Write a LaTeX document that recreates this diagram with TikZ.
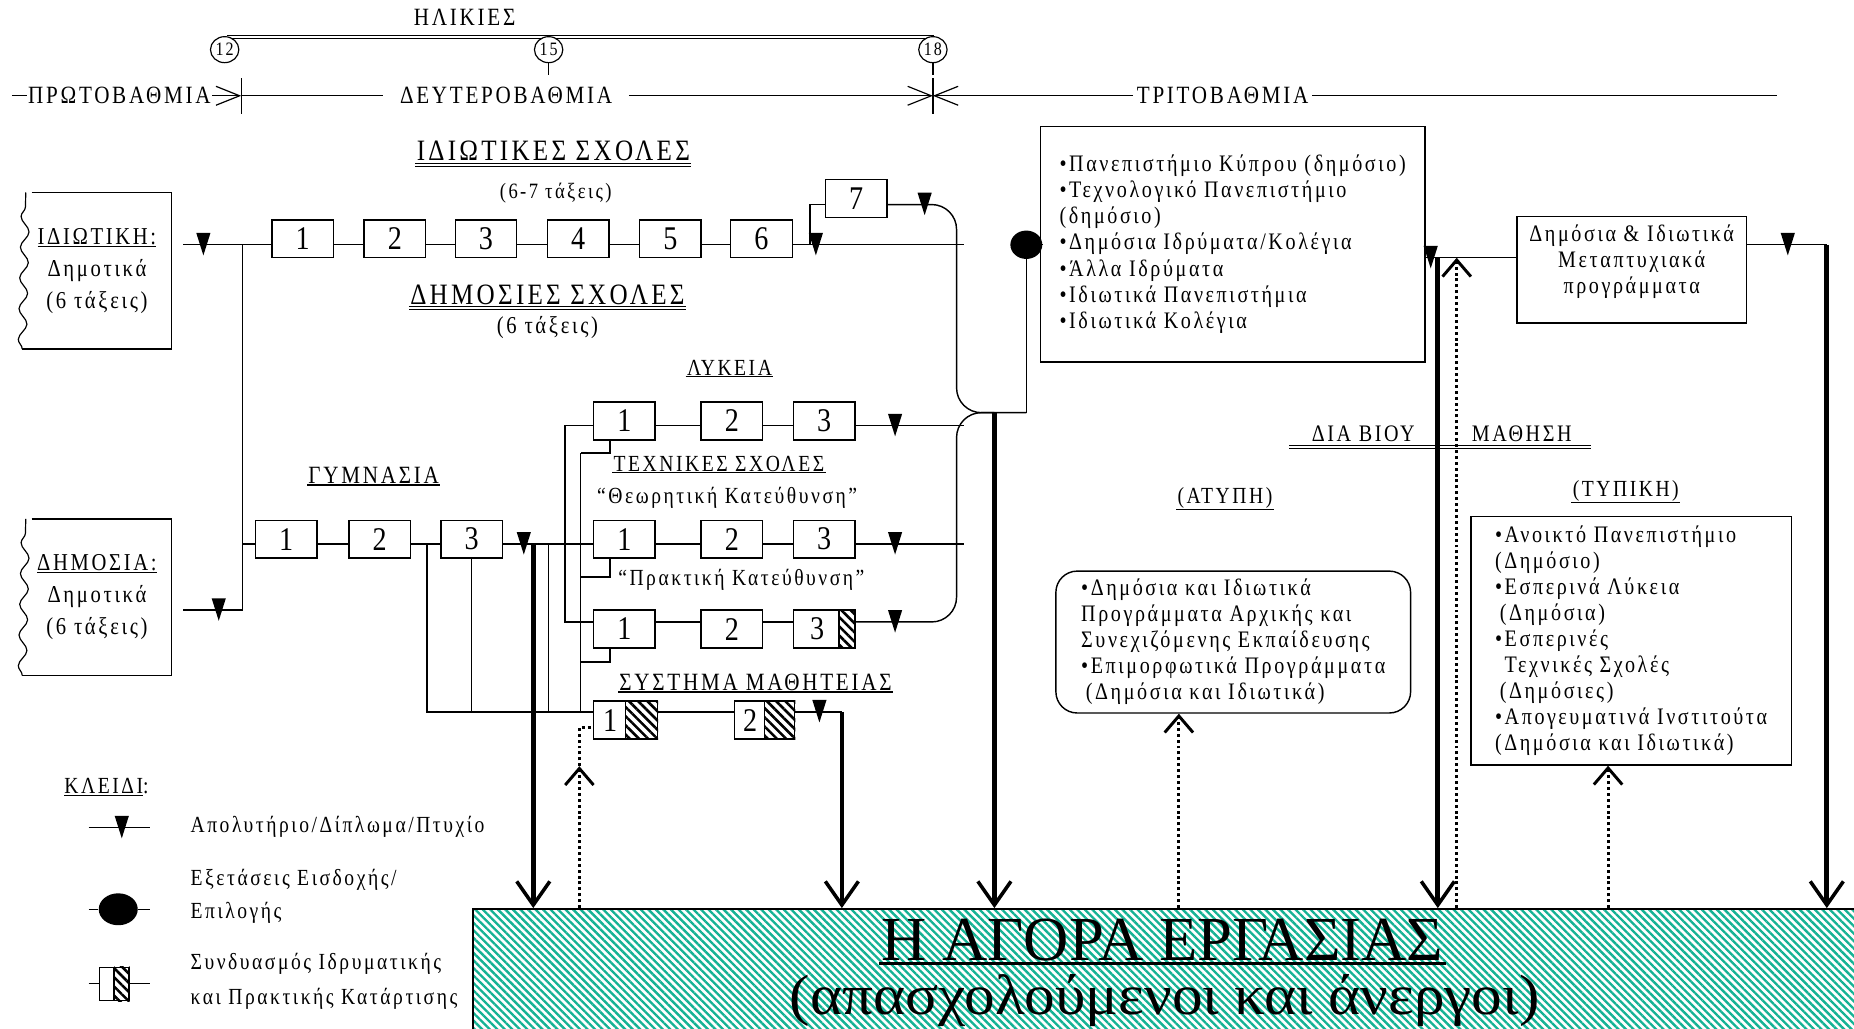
\documentclass[tikz,border=0pt]{standalone}
\usepackage{fontspec}
\setmainfont{Liberation Serif}[LetterSpace=11,FakeStretch=0.85]
\newfontfamily\mktfont{Liberation Serif}
\newfontfamily\mktwide{Liberation Serif}[FakeStretch=1.08]
\usetikzlibrary{arrows.meta,shapes.geometric,patterns.meta,decorations.pathmorphing,positioning}
\definecolor{hatchgreen}{RGB}{20,178,148}
\newcommand{\fsz}[2]{\fontsize{#1}{#2}\selectfont}

\begin{document}
\begin{tikzpicture}[x=1pt,y=-1pt,
    every node/.style={inner sep=1pt},
    ln/.style={line width=1.2pt},
    cls/.style={draw,line width=1.2pt,fill=white,minimum width=52pt,minimum height=32pt,inner sep=0pt,font=\fsz{28}{28}},
    lbl/.style={font=\fsz{19.5}{22}},
    undl/.style={append after command={(\tikzlastnode.south west) edge[line width=1pt] (\tikzlastnode.south east)}},
    dundl/.style={inner ysep=3pt,append after command={(\tikzlastnode.south west) edge[double,double distance=1.6pt,line width=1pt] (\tikzlastnode.south east)}},
    exit/.style={line width=4pt,-{Straight Barb[length=20pt,width=28pt,line width=3pt]}},
    reenter/.style={line width=2.5pt,dash pattern=on 2.5pt off 2.5pt},
    uptip/.style={reenter,-{Straight Barb[length=14pt,width=24pt,line width=2.5pt]}},
    lvl/.style={line width=1pt},
    barb/.style={lvl,-{Straight Barb[length=20pt,width=16pt,line width=1pt]}},
    age/.style={draw,ellipse,line width=1pt,fill=white,minimum width=24pt,minimum height=22pt,inner sep=0pt,font=\fsz{16}{16}},
    exam/.style={ellipse,fill=black,minimum width=27pt,minimum height=24pt,inner sep=0pt},
    mix/.style={pattern={Lines[angle=-45,distance=5.5pt,line width=2.2pt]}},
    wavy/.style={line width=1pt,decorate,decoration={snake,amplitude=3.5pt,segment length=26pt}},
    txtbox/.style={draw,line width=1.2pt,align=left,font=\fsz{20}{22}},
    pics/dipl/.style={code={\fill (-6,-10) -- (6,-10) -- (0,9) -- cycle;}}
]
\useasboundingbox (0,0) rectangle (1568,870);

% labour market
\node[draw,line width=1.5pt,pattern={Lines[angle=-45,distance=4.5pt,line width=2pt]},pattern color=hatchgreen,
      minimum width=1172pt,minimum height=104pt,inner sep=0pt] (mkt) at (986,821) {};
\node[font=\mktfont\fsz{53}{53},inner sep=2pt,append after command={(\tikzlastnode.south west) edge[line width=3pt] (\tikzlastnode.south east)}]
      (mkt1) at (983,795) {Η ΑΓΟΡΑ ΕΡΓΑΣΙΑΣ};
\node[font=\mktwide\fsz{48}{48},inner sep=0pt] (mkt2) at (985,846) {(απασχολούμενοι και άνεργοι)};

% ages
\node[font=\fsz{21}{22}] (ages) at (393,15) {ΗΛΙΚΙΕΣ};
\draw[double,double distance=1.6pt,line width=1pt] (192,31) -- (790,31);
\node[age] (a12) at (190,42) {12};
\node[age] (a15) at (464,42) {15};
\node[age] (a18) at (789,42) {18};
\draw[lvl] (a15.south) -- ++(0,10);
\draw[lvl] (a18.south) -- ++(0,10);

% levels
\node[font=\fsz{21}{22}] (prw) at (101,81) {ΠΡΩΤΟΒΑΘΜΙΑ};
\node[font=\fsz{21}{22},inner xsep=14pt] (dev) at (428,81) {ΔΕΥΤΕΡΟΒΑΘΜΙΑ};
\node[font=\fsz{21}{22},inner xsep=3pt] (trt) at (1034,81) {ΤΡΙΤΟΒΑΘΜΙΑ};
\coordinate (b12) at (204,81);
\coordinate (b18) at (789,81);
\coordinate (lvlL) at (10,81);
\coordinate (lvlR) at (1503,81);
\draw[lvl] (204,66) -- (204,96);
\draw[lvl] (789,66) -- (789,96);
\draw[lvl] (lvlL) -- (prw.west);
\draw[barb] (prw.east) -- (b12);
\draw[lvl] (b12) -- (dev.west);
\draw[barb] (dev.east) -- (b18);
\draw[barb] (trt.west) -- (b18);
\draw[lvl] (trt.east) -- (lvlR);

% titles
\node[dundl,font=\fsz{25}{26}] (psl) at (468,128) {ΙΔΙΩΤΙΚΕΣ ΣΧΟΛΕΣ};
\node[font=\fsz{18.5}{20}] (psn) at (470,163) {(6-7 τάξεις)};
\node[dundl,font=\fsz{25}{26}] (dsl) at (463,249) {ΔΗΜΟΣΙΕΣ ΣΧΟΛΕΣ};
\node[font=\fsz{20.5}{22}] (dsn) at (463,277) {(6 τάξεις)};

% primary schools
\node[font=\fsz{20.5}{27},align=center,minimum width=126pt,minimum height=132pt] (pri) at (82,229)
      {\underline{ΙΔΙΩΤΙΚΗ:}\\Δημοτικά\\(6 τάξεις)};
\node[font=\fsz{20.5}{27},align=center,minimum width=126pt,minimum height=132pt] (pub) at (82,505)
      {\underline{ΔΗΜΟΣΙΑ:}\\Δημοτικά\\(6 τάξεις)};
\draw[ln] ([xshift=8pt]pri.north west) -- (pri.north east) -- (pri.south east) -- (pri.south west);
\draw[wavy] (pri.south west) -- ([xshift=3pt]pri.north west);
\draw[ln] ([xshift=8pt]pub.north west) -- (pub.north east) -- (pub.south east) -- (pub.south west);
\draw[wavy] (pub.south west) -- ([xshift=3pt]pub.north west);

% row heights
\coordinate (rowP) at (0,207);
\coordinate (rowP7) at (0,173);
\coordinate (rowL) at (0,360);
\coordinate (rowT) at (0,460);
\coordinate (rowR) at (0,526);
\coordinate (rowS) at (0,602);
\coordinate (xend) at (815,0);

% private secondary
\foreach \i/\x in {1/256,2/334,3/411,4/489,5/567,6/644}
  \node[cls] (P\i) at (\x,202) {\i};
\node[cls] (P7) at (724,168) {7};
\foreach \i/\j in {1/2,2/3,3/4,4/5,5/6}
  \draw[ln] (P\i.east |- rowP) -- (P\j.west |- rowP);
\coordinate (pOut) at (155,207);
\coordinate (jP) at (205,207);
\coordinate (jP7) at (685,207);
\draw[ln] (pOut) -- (P1.west |- rowP);
\draw[ln] (P6.east |- rowP) -- (xend |- rowP);
\draw[ln] (jP7) |- (P7.west |- rowP7);
\pic at (172,207) {dipl};
\pic at (690,207) {dipl};
\pic at (782,173) {dipl};

% public secondary
\coordinate (dOut) at (155,516);
\coordinate (jD) at (205,516);
\coordinate (jG) at (205,460);
\draw[ln] (dOut) -- (jD) -- (jP);
\pic at (185,516) {dipl};

\node[lbl,undl,font=\fsz{21}{22}] (gyml) at (316,402) {ΓΥΜΝΑΣΙΑ};
\foreach \i/\x in {1/242,2/321,3/399}
  \node[cls] (G\i) at (\x,456) {\i};
\draw[ln] (jG) -- (G1.west |- rowT);
\draw[ln] (G1.east |- rowT) -- (G2.west |- rowT);
\draw[ln] (G2.east |- rowT) -- (G3.west |- rowT);

\node[lbl,undl] (lyk) at (617,311) {ΛΥΚΕΙΑ};
\node[lbl,undl] (tex) at (608,392) {ΤΕΧΝΙΚΕΣ ΣΧΟΛΕΣ};
\node[lbl] (theo) at (615,421) {“Θεωρητική Κατεύθυνση”};
\node[lbl] (prak) at (627,490) {“Πρακτική Κατεύθυνση”};
\node[lbl,undl,font=\fsz{21}{22}] (sml) at (639,577) {ΣΥΣΤΗΜΑ ΜΑΘΗΤΕΙΑΣ};

\foreach \i/\x in {1/528,2/619,3/697} {
  \node[cls] (L\i) at (\x,356) {\i};
  \node[cls] (T\i) at (\x,456) {\i};
}
\node[cls] (R1) at (528,532) {1};
\node[cls] (R2) at (619,532) {2};
\node[cls] (R3) at (697,532) {3\hspace*{12pt}};
\path[mix] ([xshift=-14pt]R3.north east) rectangle (R3.south east);
\draw[ln] ([xshift=-14pt]R3.north east) -- ([xshift=-14pt]R3.south east);
\node[cls,minimum width=54pt] (S1) at (529,609) {1\hspace*{26pt}};
\node[cls,minimum width=51pt] (S2) at (646.5,609) {2\hspace*{24pt}};
\path[mix] (S1.north) rectangle (S1.south east);
\draw[ln] (S1.north) -- (S1.south);
\path[mix] (S2.north) rectangle (S2.south east);
\draw[ln] (S2.north) -- (S2.south);

\foreach \r/\w in {L/rowL,T/rowT,R/rowR} {
  \draw[ln] (\r1.east |- \w) -- (\r2.west |- \w);
  \draw[ln] (\r2.east |- \w) -- (\r3.west |- \w);
}
\draw[ln] (G3.east |- rowT) -- (T1.west |- rowT);
\draw[ln] (L3.east |- rowL) -- (xend |- rowL);
\draw[ln] (T3.east |- rowT) -- (xend |- rowT);
\pic at (443,460) {dipl};
\pic at (757,360) {dipl};
\pic at (757,460) {dipl};
\pic at (757,526) {dipl};

% branches
\coordinate (jR) at (478,526);
\coordinate (v1t) at (361,460);
\coordinate (v3t) at (464,460);
\coordinate (jL5) at (491,383);
\coordinate (jT5) at (491,488);
\coordinate (jR5) at (491,560);
\draw[ln] (L1.west |- rowL) -| (jR) -- (R1.west |- rowR);
\draw[ln] (v1t) -- (v1t |- rowS) -- (S1.west |- rowS);
\draw[ln] (G3.south) -- (G3.south |- rowS);
\draw[ln] (v3t) -- (v3t |- rowS);
\draw[ln] (jL5) -- (jL5 |- rowS);
\draw[ln] ([xshift=-12pt]L1.south) |- (jL5);
\draw[ln] ([xshift=-12pt]T1.south) |- (jT5);
\draw[ln] ([xshift=-12pt]R1.south) |- (jR5);
\coordinate (jS) at (712,602);
\draw[ln] (S1.east |- rowS) -- (S2.west |- rowS);
\draw[ln] (S2.east |- rowS) -- (jS);
\pic at (693,602) {dipl};

% merging into exams
\node[exam] (ex) at (868,207) {};
\coordinate (cv1) at (809,173);
\coordinate (cv2) at (809,349);
\coordinate (cv3) at (809,526);
\coordinate (jM) at (868,349);
\coordinate (tk3) at (841,349);
\draw[ln,rounded corners=21pt] (P7.east |- rowP7) -- (cv1) -- (cv2) -- (jM);
\draw[ln,rounded corners=21pt] (R3.east |- rowR) -- (cv3) -- (cv2) -- (tk3);
\draw[ln] (jM) -- (ex.south);

% tertiary
\node[txtbox,minimum width=325pt,minimum height=199pt] (uni) at (1042.5,206.5)
  {•Πανεπιστήμιο Κύπρου (δημόσιο)\\•Τεχνολογικό Πανεπιστήμιο\\(δημόσιο)\\•Δημόσια Ιδρύματα/Κολέγια\\•Άλλα Ιδρύματα\\•Ιδιωτικά Πανεπιστήμια\\•Ιδιωτικά Κολέγια};
\draw[ln] (ex) -- (uni.west |- ex);
\node[draw,line width=1.2pt,minimum width=194pt,minimum height=90pt] (pg) at (1380,228) {};
\node[align=center,font=\fsz{20}{22}] (pgt) at (1380,221) {Δημόσια \& Ιδιωτικά\\Μεταπτυχιακά\\προγράμματα};
\coordinate (rowU) at (0,218);
\coordinate (tk4) at (1216,218);
\coordinate (dt4) at (1232,218);
\coordinate (tk5) at (1545,207);
\draw[ln] (uni.east |- rowU) -- (pg.west |- rowU);
\draw[ln] (pg.east |- tk5) -- (tk5);
\pic at (1210,218) {dipl};
\pic at (1512,207) {dipl};

% lifelong learning
\node[font=\fsz{20}{22}] (db) at (1153,367) {ΔΙΑ ΒΙΟΥ};
\node[font=\fsz{20}{22}] (mth) at (1287,367) {ΜΑΘΗΣΗ};
\draw[double,double distance=1.6pt,line width=1pt] ([xshift=-18pt,yshift=-3pt]db.south west) -- ([xshift=15pt,yshift=-3pt]mth.south east);
\node[lbl,undl] (aty) at (1036,421) {(ΑΤΥΠΗ)};
\node[lbl,undl] (typ) at (1375,415) {(ΤΥΠΙΚΗ)};
\node[txtbox,rounded corners=18pt,minimum width=300pt,minimum height=120pt] (inf) at (1043,543)
  {•Δημόσια και Ιδιωτικά\\Προγράμματα Αρχικής και\\Συνεχιζόμενης Εκπαίδευσης\\•Επιμορφωτικά Προγράμματα\\\hspace*{4pt}(Δημόσια και Ιδιωτικά)};
\node[txtbox,minimum width=271pt,minimum height=210pt] (frm) at (1379.5,542)
  {•Ανοικτό Πανεπιστήμιο\\(Δημόσιο)\\•Εσπερινά Λύκεια\\\hspace*{4pt}(Δημόσια)\\•Εσπερινές\\\hspace*{8pt}Τεχνικές Σχολές\\\hspace*{4pt}(Δημόσιες)\\•Απογευματινά Ινστιτούτα\\(Δημόσια και Ιδιωτικά)};

% exits to the labour market
\coordinate (tk1) at (451,460);
\draw[exit] (tk1) -- (tk1 |- mkt.north);
\draw[exit] (jS) -- (jS |- mkt.north);
\draw[exit] (tk3) -- (tk3 |- mkt.north);
\draw[exit] (tk4) -- (tk4 |- mkt.north);
\draw[exit] (tk5) -- (tk5 |- mkt.north);

% re-entry
\coordinate (d1m) at (490,648);
\coordinate (d1t) at (490,615);
\coordinate (dt2) at (997,0);
\coordinate (dt3) at (1360,0);
\draw[uptip] (d1m |- mkt.north) -- (d1m);
\draw[reenter] (d1m) -- (d1t) -- (S1.west |- d1t);
\draw[uptip] (dt2 |- mkt.north) -- (dt2 |- inf.south);
\draw[uptip] (dt3 |- mkt.north) -- (dt3 |- frm.south);
\draw[uptip] (dt4 |- mkt.north) -- (dt4);

% key
\node[lbl] (key) at (90,666) {\underline{ΚΛΕΙΔΙ}:};
\coordinate (k1a) at (75,700);
\coordinate (k1b) at (127,700);
\draw[ln] (k1a) -- (k1b);
\pic at (103,700) {dipl};
\node[lbl,anchor=west] (k1t) at (160,699) {Απολυτήριο/Δίπλωμα/Πτυχίο};
\node[exam,minimum width=33pt,minimum height=27pt] (k2) at (100,769) {};
\draw[ln] (75,769) -- (k2.west);
\draw[ln] (k2.east) -- (127,769);
\node[lbl,anchor=west,align=left,font=\fsz{19.5}{28}] (k2t) at (160,758) {Εξετάσεις Εισδοχής/\\Επιλογής};
\node[draw,line width=1.2pt,fill=white,minimum width=25pt,minimum height=28pt,inner sep=0pt] (k3) at (96.5,832) {};
\path[mix] (k3.north) rectangle (k3.south east);
\draw[ln] (k3.north) -- (k3.south);
\draw[ln] (75,832) -- (k3.west);
\draw[ln] (k3.east) -- (127,832);
\node[lbl,anchor=west,align=left,font=\fsz{19.5}{30}] (k3t) at (160,830) {Συνδυασμός Ιδρυματικής\\και Πρακτικής Κατάρτισης};
\end{tikzpicture}
\end{document}
